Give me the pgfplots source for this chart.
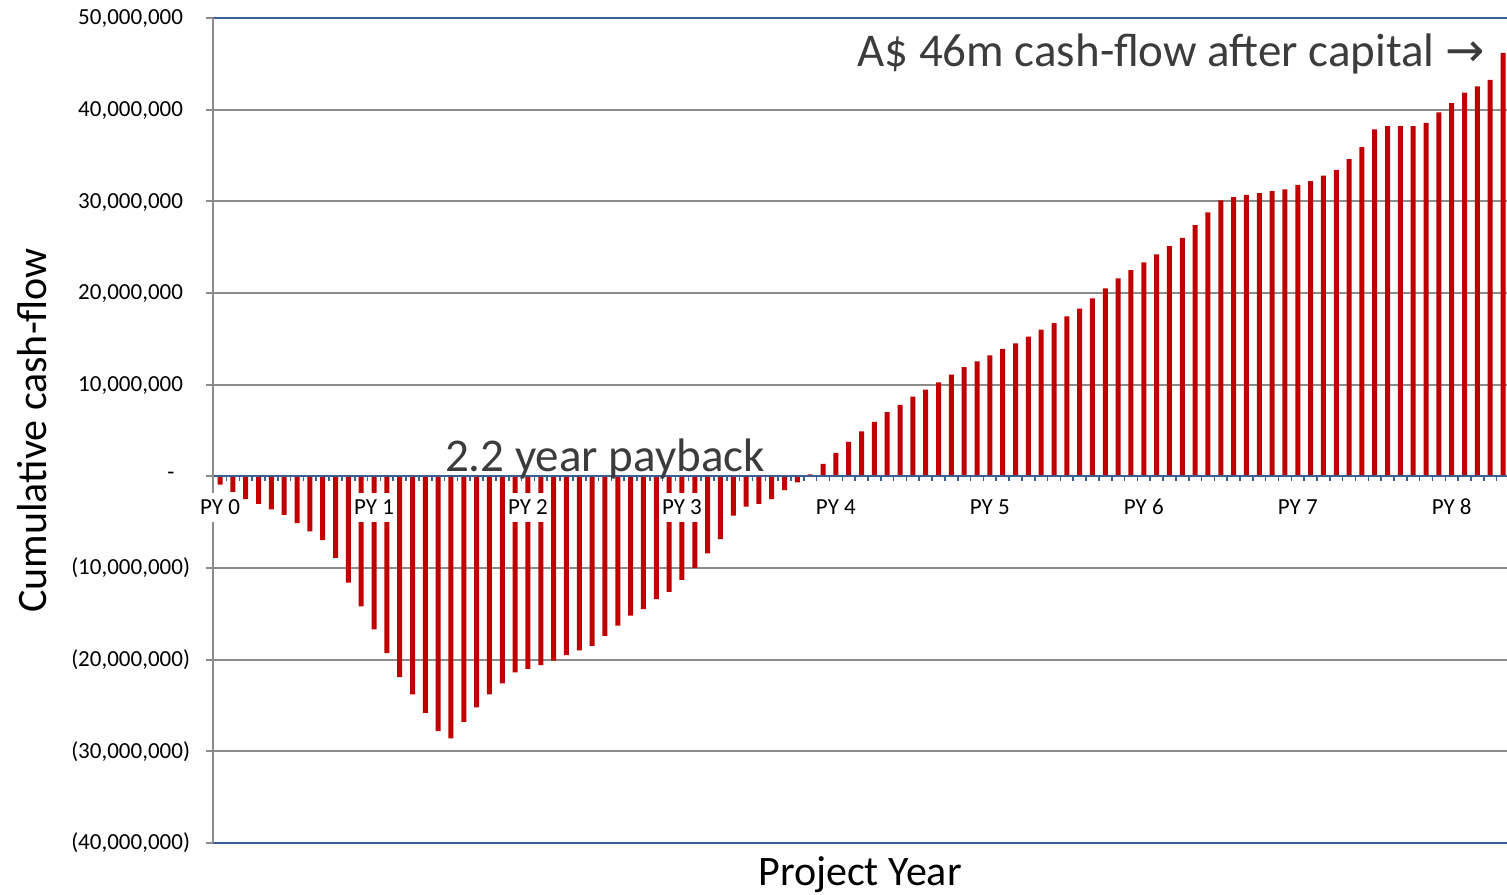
\documentclass[border=0pt]{standalone}
\usepackage{fontspec}
\setmainfont{Carlito}
\newfontfamily\dejavu{DejaVu Sans}
\usepackage{pgfplots}
\usepackage{pgfplotstable}
\pgfplotsset{compat=1.18}
\definecolor{barred}{HTML}{C00000}
\definecolor{gridgray}{HTML}{8C8C8C}
\definecolor{axisblue}{HTML}{3A5F95}
\definecolor{annot}{HTML}{3C3C3C}
\pgfplotstableread{
month value
0 -0.9
1 -1.7
2 -2.5
3 -3.0
4 -3.6
5 -4.2
6 -5.1
7 -6.0
8 -6.95
9 -8.9
10 -11.6
11 -14.2
12 -16.7
13 -19.3
14 -21.9
15 -23.8
16 -25.8
17 -27.8
18 -28.6
19 -26.8
20 -25.2
21 -23.8
22 -22.6
23 -21.4
24 -21.0
25 -20.6
26 -20.1
27 -19.5
28 -19.0
29 -18.5
30 -17.4
31 -16.3
32 -15.2
33 -14.5
34 -13.4
35 -12.6
36 -11.3
37 -10.0
38 -8.4
39 -6.85
40 -4.3
41 -3.3
42 -3.0
43 -2.5
44 -1.5
45 -0.65
46 0.2
47 1.35
48 2.55
49 3.75
50 4.9
51 5.95
52 7.0
53 7.8
54 8.7
55 9.45
56 10.25
57 11.1
58 11.9
59 12.55
60 13.2
61 13.9
62 14.5
63 15.25
64 16.0
65 16.7
66 17.45
67 18.3
68 19.4
69 20.5
70 21.6
71 22.5
72 23.35
73 24.2
74 25.1
75 26.0
76 27.4
77 28.8
78 30.1
79 30.45
80 30.7
81 30.9
82 31.1
83 31.3
84 31.8
85 32.2
86 32.8
87 33.4
88 34.6
89 35.9
90 37.85
91 38.2
92 38.2
93 38.2
94 38.55
95 39.7
96 40.7
97 41.85
98 42.55
99 43.25
100 46.2
}\cashflow
\begin{document}
\begin{tikzpicture}
\begin{axis}[
  set layers=standard,
  scale only axis,
  width=647pt, height=412.5pt,
  xmin=-0.55, xmax=100.31,
  ymin=-40, ymax=50,
  axis x line=middle,
  axis y line=left,
  axis line style={-},
  x axis line style={-, draw=axisblue, line width=1pt},
  y axis line style={-, draw=gridgray, line width=1pt},
  hide obscured x ticks=false,
  hide obscured y ticks=false,
  tick align=outside,
  major tick length=3.5pt,
  minor tick length=2.2pt,
  ytick={-40,-30,-20,-10,0,10,20,30,40,50},
  yticklabels={{(40,000,000)},{(30,000,000)},{(20,000,000)},{(10,000,000)},{-\rule{7.7pt}{0pt}},{10,000,000\phantom{)}},{20,000,000\phantom{)}},{30,000,000\phantom{)}},{40,000,000\phantom{)}},{50,000,000\phantom{)}}},
  ymajorgrids,
  grid style={draw=gridgray, line width=1pt},
  extra y ticks={-40,50},
  extra y tick labels={},
  extra y tick style={grid=major, major grid style={draw=axisblue, line width=1pt}},
  major y tick style={draw=gridgray, line width=1pt},
  xtick={0,12,24,36,48,60,72,84,96},
  xticklabels={PY 0,PY 1,PY 2,PY 3,PY 4,PY 5,PY 6,PY 7,PY 8},
  minor xtick={-0.5,0.5,...,99.5},
  major x tick style={draw=none},
  minor x tick style={draw=axisblue, line width=0.8pt},
  xticklabel style={font=\fontsize{11.5}{13}\selectfont, text=black, fill=white, inner xsep=1.3pt, inner ysep=1.5pt, text height=9.4pt, text depth=2pt, anchor=north, yshift=-4.6pt},
  yticklabel style={font=\fontsize{11.5}{13}\selectfont, text=black, anchor=east, xshift=-4.5pt},
  xlabel={Project Year},
  ylabel={Cumulative cash-flow},
  every axis x label/.style={at={(axis description cs:0.5,-0.0388)}, anchor=center, font=\fontsize{21}{25}\selectfont, text=black},
  every axis y label/.style={at={(axis description cs:-0.14,0.5)}, rotate=90, anchor=center, font=\fontsize{21}{25}\selectfont, text=black},
]
\addplot[ybar, bar width=2.5pt, bar shift=0pt, fill=barred, draw=none, on layer=axis ticks] table[x=month, y=value]{\cashflow};
\node[anchor=base east, font=\fontsize{23.5}{28}\selectfont, text=annot, inner sep=0pt] at (axis cs:98.6,44.7) {A\$ 46m cash-flow after capital {\dejavu →}};
\node[anchor=base, font=\fontsize{23.5}{28}\selectfont, text=annot, inner sep=0pt] at (axis cs:30,0.55) {2.2 year payback};
\end{axis}
\pgfresetboundingbox
\path ([xshift=-106.5pt,yshift=-26pt]current axis.south west) rectangle ([yshift=9pt]current axis.north east);
\end{tikzpicture}
\end{document}
